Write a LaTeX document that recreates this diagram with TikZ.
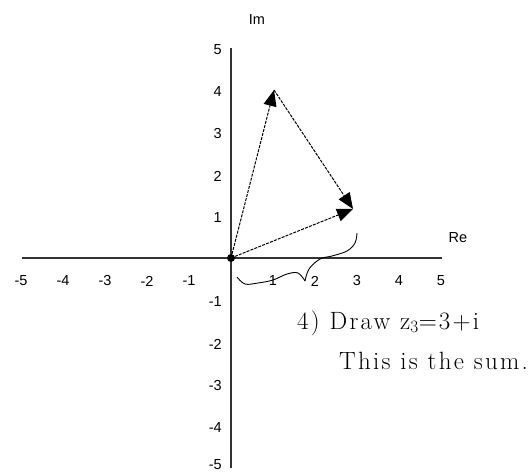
\documentclass[tikz,border=0pt]{standalone}
\usepackage{fontspec}
\setmainfont{Latin Modern Roman}
\newfontfamily\lblfont{Liberation Sans}
\usetikzlibrary{arrows.meta}
\begin{document}
\begin{tikzpicture}[x=1pt,y=-1pt,
  axisline/.style={line width=1.4pt,draw=black!80},
  vec/.style={line width=1pt,dash pattern=on 3pt off 1.2pt,-{Triangle[length=16pt,width=13pt]}},
  lbl/.style={font=\lblfont\fontsize{14.5}{14.5}\selectfont,inner sep=0pt},
  ylbl/.style={lbl,anchor=east},
  xlbl/.style={lbl,anchor=center},
  note/.style={font=\fontsize{25}{25}\selectfont\addfontfeatures{LetterSpace=9},inner sep=0pt,anchor=base west}]
\useasboundingbox (0,0) rectangle (532,473);
% axes
\draw[axisline] (22,258) -- (442,258);
\draw[axisline] (231,48) -- (231,468);
% axis titles
\node[lbl] (im) at (257,20) {Im};
\node[lbl] (re) at (458,238) {Re};
% x labels
\foreach \v in {-5,-4,-3,-2,-1,1,2,3,4,5}
  \node[xlbl] (x\v) at ({231+42*\v},281) {\v};
% y labels
\foreach \v in {-4,-3,-2,-1,1,2,3,4,5}
  \node[ylbl] (y\v) at (222,{260-42*\v}) {\v};
\node[ylbl] (y-5) at (222,465) {-5};
% origin and points
\node[circle,fill=black,inner sep=0pt,minimum size=8pt] (O) at (231,258) {};
\coordinate (A) at (274,90);
\coordinate (B) at (353,209);
\draw[vec] (O.center) -- (A);
\draw[vec] (A) -- (B);
\draw[vec] (O.center) -- (B);
% brace
\draw[line width=0.9pt] plot[smooth,tension=0.6] coordinates {(237,277) (245,284) (258,283) (273,280) (287,274) (298,273) (305,281)};
\draw[line width=0.9pt] plot[smooth,tension=0.6] coordinates {(305,281) (309,269) (320,259) (332,256) (347,251) (355,243) (357,233)};
% text
\node[note] (t1) at (297,329) {4) Draw z$_3$=3+i};
\node[note] (t2) at (339,369) {This is the sum.};
\end{tikzpicture}
\end{document}
